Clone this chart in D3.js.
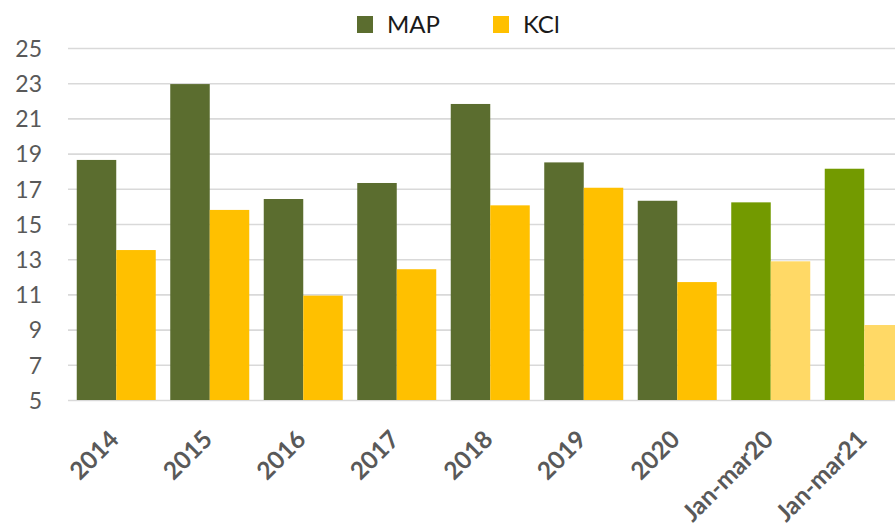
<!DOCTYPE html>
<html>
<head>
<meta charset="utf-8">
<script src="https://cdn.jsdelivr.net/npm/d3@7"></script>
<style>
  html, body { margin: 0; padding: 0; background: #fff; }
  svg { display: block; font-family: Lato, "Open Sans", sans-serif; }
</style>
</head>
<body>
<svg id="chart" width="895" height="529"></svg>
<script>
// Yearly averages, plus the January–March periods of 2020 and 2021
const categories = ["2014", "2015", "2016", "2017", "2018", "2019", "2020", "Jan-mar20", "Jan-mar21"];
const mapValues = [18.64, 22.95, 16.42, 17.33, 21.82, 18.5, 16.32, 16.23, 18.14];
const kclValues = [13.52, 15.8, 10.93, 12.43, 16.06, 17.06, 11.7, 12.88, 9.26];
const yTicks = [5, 7, 9, 11, 13, 15, 17, 19, 21, 23, 25];
const seriesNames = ["MAP", "KCl"];

// full-year colours, and lighter shades for the quarter-only periods
const fullColors = { MAP: "#5b6d2f", KCl: "#ffc000" };
const quarterColors = { MAP: "#739a00", KCl: "#ffd966" };

const svg = d3.select("#chart");
const width = 895, height = 529;

const x = d3.scaleBand()
  .domain(categories)
  .range([69.5, 911])
  .paddingInner(0.155)
  .paddingOuter(0.0775);

const xSeries = d3.scaleBand()
  .domain(seriesNames)
  .range([0, x.bandwidth()]);

const y = d3.scaleLinear().domain([5, 25]).range([400, 48]);

// gridlines
const grid = d3.axisLeft(y).tickValues(yTicks).tickSize(-(width - 68)).tickFormat("");
svg.append("g")
  .attr("transform", "translate(68,0)")
  .call(grid)
  .call(g => g.select(".domain").remove())
  .call(g => g.selectAll("line").attr("stroke", "#d9d9d9").attr("stroke-width", 1.6));

// y tick labels
const yAxis = d3.axisLeft(y).tickValues(yTicks).tickSize(0).tickPadding(0);
svg.append("g")
  .attr("transform", "translate(42,0)")
  .call(yAxis)
  .call(g => g.select(".domain").remove())
  .call(g => g.selectAll("text")
    .attr("fill", "#595959")
    .attr("font-size", "23px")
    .attr("font-family", "Lato, 'Open Sans', sans-serif")
    .attr("dy", "0.36em"));

// bars
const rows = categories.map((c, i) => ({
  category: c,
  quarter: c.startsWith("Jan"),
  values: [{ key: "MAP", v: mapValues[i] }, { key: "KCl", v: kclValues[i] }]
}));

const groups = svg.append("g").selectAll("g")
  .data(rows)
  .join("g")
  .attr("transform", d => `translate(${x(d.category)},0)`);

groups.selectAll("rect")
  .data(d => d.values.map(s => ({ ...s, quarter: d.quarter })))
  .join("rect")
  .attr("x", d => xSeries(d.key))
  .attr("width", xSeries.bandwidth())
  .attr("y", d => y(d.v))
  .attr("height", d => y(5) - y(d.v))
  .attr("fill", d => (d.quarter ? quarterColors : fullColors)[d.key]);

// x axis labels, rotated
const xAxis = d3.axisBottom(x).tickSize(0).tickPadding(0);
svg.append("g")
  .call(xAxis)
  .call(g => g.select(".domain").remove())
  .call(g => g.selectAll(".tick").attr("transform", null))
  .call(g => g.selectAll("text")
    .attr("y", null)
    .attr("dy", null)
    .attr("transform", d => `translate(${x(d) + x.bandwidth() / 2 + 4},441) rotate(-45)`)
    .attr("text-anchor", "end")
    .attr("fill", "#595959")
    .attr("font-weight", "bold")
    .attr("font-size", "24.5px")
    .attr("font-family", "Lato, 'Open Sans', sans-serif"));

// legend
const legendPos = [{ key: "MAP", x: 357 }, { key: "KCl", x: 493 }];
const legend = svg.append("g").selectAll("g")
  .data(legendPos)
  .join("g")
  .attr("transform", d => `translate(${d.x},16)`);
legend.append("rect")
  .attr("width", 16).attr("height", 17)
  .attr("fill", d => fullColors[d.key]);
legend.append("text")
  .attr("x", 30).attr("y", 17)
  .attr("font-size", "24px")
  .attr("fill", "#1a1a1a")
  .text(d => d.key);
</script>
</body>
</html>
